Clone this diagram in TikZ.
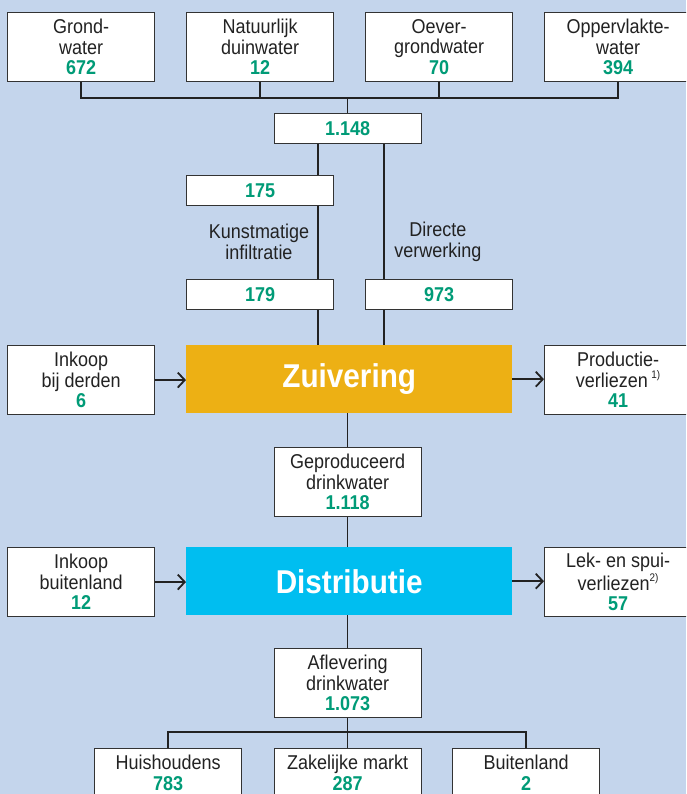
\documentclass[tikz,border=0pt]{standalone}
\usepackage{fontspec}
\setmainfont[FakeStretch=0.9]{Liberation Sans}
\usetikzlibrary{arrows.meta}
\definecolor{bg}{HTML}{C4D5EC}
\definecolor{num}{HTML}{009B77}
\definecolor{zuiv}{HTML}{EDB014}
\definecolor{distr}{HTML}{00BEF0}
\definecolor{edge}{HTML}{333333}
\definecolor{ink}{HTML}{222222}
\newcommand{\nm}[1]{{\bfseries\color{num}#1}}
\newcommand{\fnm}[1]{\raisebox{0.45em}{\fontsize{11}{11}\selectfont #1}}
\begin{document}
\begin{tikzpicture}[x=1pt,y=-1pt,
  box/.style={draw=edge, line width=1.1pt, fill=white, minimum width=147pt,
    minimum height=69pt, inner sep=0pt, align=center, anchor=north west,
    font=\fontsize{20}{20.5}\selectfont, text=ink},
  sbox/.style={box, minimum height=30pt},
  big/.style={draw=none, minimum width=326pt, minimum height=68pt, inner sep=0pt,
    anchor=north west, font=\fontsize{33}{34}\selectfont\bfseries, text=white},
  lab/.style={align=center, font=\fontsize{20}{20.5}\selectfont, text=ink},
  conn/.style={draw=ink, line width=1.8pt},
  arr/.style={conn, -{Straight Barb[length=7pt,width=15pt,line width=1.8pt]}}
]
\useasboundingbox (0,0) rectangle (686,794);
\clip (0,0) rectangle (686,794);
\fill[bg] (0,0) rectangle (686,794);

% top sources
\node[box] (gw) at (7,12) {Grond-\\water\\\nm{672}};
\node[box] (nd) at (186,12) {Natuurlijk\\duinwater\\\nm{12}};
\node[box] (og) at (365,12) {Oever-\\grondwater\\\nm{70}};
\node[box] (ow) at (544,12) {Oppervlakte-\\water\\\nm{394}};

\node[sbox] (tot) at (273.5,113) {\nm{1.148}};
\node[sbox] (k1) at (186,175) {\nm{175}};
\node[sbox] (k2) at (186,279) {\nm{179}};
\node[sbox] (dv) at (365,279) {\nm{973}};
\node[lab] (kl) at (259,242) {Kunstmatige\\infiltratie};
\node[lab] (dl) at (438,242) {Directe\\verwerking};

\node[big, fill=zuiv] (zu) at (186,345) {Zuivering};
\node[box] (ib) at (7,345) {Inkoop\\bij derden\\\nm{6}};
\node[box] (pv) at (544,345) {Productie-\\verliezen\,\fnm{1)}\\\nm{41}};

\node[box] (gp) at (273.5,447) {Geproduceerd\\drinkwater\\\nm{1.118}};

\node[big, fill=distr] (di) at (186,547) {Distributie};
\node[box] (ibl) at (7,547) {Inkoop\\buitenland\\\nm{12}};
\node[box] (lv) at (544,547) {Lek- en spui-\\verliezen\fnm{2)}\\\nm{57}};

\node[box] (af) at (273.5,648) {Aflevering\\drinkwater\\\nm{1.073}};

\node[box] (hh) at (94,748) {Huishoudens\\\nm{783}\\\mbox{}};
\node[box] (zm) at (273.5,748) {Zakelijke markt\\\nm{287}\\\mbox{}};
\node[box] (bl) at (452,748) {Buitenland\\\nm{2}\\\mbox{}};

% connectors top
\coordinate (xl) at (318,0);
\coordinate (xr) at (384,0);
\draw[conn] (gw.south) -- ++(0,16) -| (ow.south);
\draw[conn] (nd.south) -- ++(0,16);
\draw[conn] (og.south) -- ++(0,16);
\draw[conn] (tot.north) -- ++(0,-16);
\draw[conn] (xl |- tot.south) -- (xl |- k1.north);
\draw[conn] (xl |- k1.south) -- (xl |- k2.north);
\draw[conn] (xl |- k2.south) -- (xl |- zu.north);
\draw[conn] (xr |- tot.south) -- (xr |- dv.north);
\draw[conn] (xr |- dv.south) -- (xr |- zu.north);

\draw[arr] (ib.east) -- (ib.east -| zu.west);
\draw[arr] (zu.east) -- (zu.east -| pv.west);
\draw[conn] (zu.south -| gp.north) -- (gp.north);
\draw[conn] (gp.south) -- (gp.south |- di.north);
\draw[arr] (ibl.east) -- (ibl.east -| di.west);
\draw[arr] (di.east) -- (di.east -| lv.west);
\draw[conn] (di.south -| af.north) -- (af.north);

\draw[conn] (af.south) -- (zm.north);
\draw[conn] (hh.north) -- ++(0,-16) -| (bl.north);
\end{tikzpicture}
\end{document}
